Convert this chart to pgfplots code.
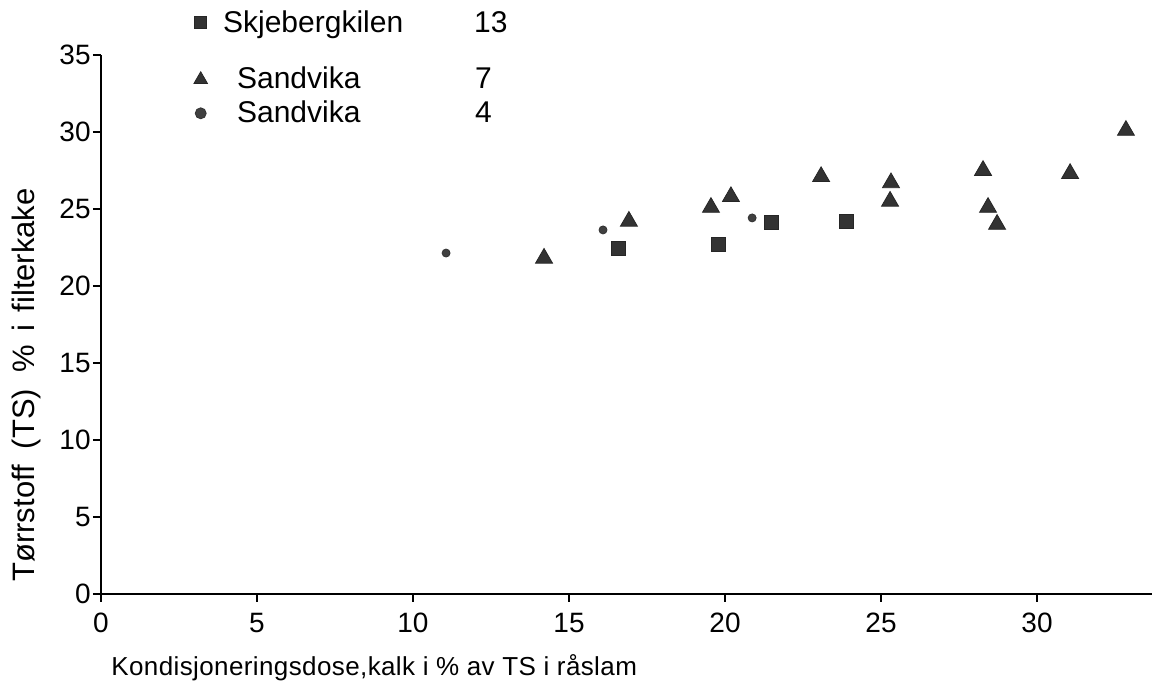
\documentclass[border=0pt]{standalone}
\usepackage{pgfplots}
\pgfplotsset{compat=1.18}
\usepackage{fontspec}
\setmainfont{Liberation Sans}
\pgfplotsset{
  flat legend/.style={legend image code/.code={\draw[##1] plot coordinates {(5pt,0pt)}; \path (0pt,0pt) (16pt,0pt);}},
  tall legend/.style={legend image code/.code={\draw[##1] plot coordinates {(5pt,0pt)}; \path (0pt,0pt) (16pt,17.5pt);}},
}
\begin{document}
\begin{tikzpicture}
\useasboundingbox (-50.5pt,-44.5pt) rectangle (526.5pt,297pt);
\begin{axis}[
  at={(0pt,0pt)}, anchor=origin,
  x=15.6pt, y=7.7pt,
  xmin=0, xmax=33.7, ymin=0, ymax=35,
  axis lines*=left,
  axis line style={line width=1pt, black},
  xtick={0,5,...,30}, ytick={0,5,...,35},
  tick align=outside,
  major tick length=4pt,
  tick style={line width=0.7pt, black},
  /pgf/number format/assume math mode=true,
  ticklabel style={font=\fontsize{14}{16}\selectfont},
  yticklabel style={inner sep=1pt},
  xticklabel style={yshift=-2pt},
  xlabel={Kondisjoneringsdose,kalk i \% av TS i råslam},
  xlabel style={at={(axis description cs:0,0)}, anchor=base west, xshift=5pt, yshift=-41pt, inner sep=0pt, font=\addfontfeatures{LetterSpace=1.5}\fontsize{13}{16}\selectfont},
  ylabel={Tørrstoff\hspace{8pt}(TS)\hspace{8pt}\%\hspace{7pt}i\hspace{6pt}filterkake},
  ylabel style={at={(axis description cs:-0.0628,0.0223)}, anchor=base west, inner sep=0pt, font=\fontsize{15.5}{18}\selectfont},
  legend style={at={(axis cs:2.85,37.92)}, anchor=north west, draw=none, fill=none, inner sep=0pt, row sep=4.5pt, column sep=0pt, nodes={inner sep=0pt, font=\fontsize{15}{18}\selectfont}},
  legend cell align=left,
  flat legend,
  clip=false,
]
\addplot[only marks, mark=square*, mark size=3.5pt, fill=black!80, draw=black!85,
  legend image post style={mark size=3pt}]
coordinates {(16.57,22.47) (19.78,22.73) (21.5,24.16) (23.9,24.2)};
\addlegendentry{\makebox[125.5pt][l]{Skjebergkilen}13}
\addplot[only marks, mark=triangle*, mark size=4.9pt, fill=black!80, draw=black!85,
  legend image post style={mark size=3.9pt}, tall legend]
coordinates {(14.2,21.8) (16.92,24.2) (19.55,25.1) (20.19,25.8) (23.08,27.1)
 (25.32,26.7) (25.29,25.5) (28.27,27.5) (28.43,25.1) (28.72,24.0) (31.06,27.3) (32.85,30.1)};
\addlegendentry{\hspace*{7pt}\makebox[119pt][l]{Sandvika}7}
\addplot[only marks, mark=*, mark size=2pt, fill=black!75, draw=black!80,
  legend image post style={mark size=2.75pt}]
coordinates {(11.06,22.14) (16.09,23.64) (20.87,24.42)};
\addlegendentry{\hspace*{7pt}\makebox[119pt][l]{Sandvika}4}
\end{axis}
\end{tikzpicture}
\end{document}
